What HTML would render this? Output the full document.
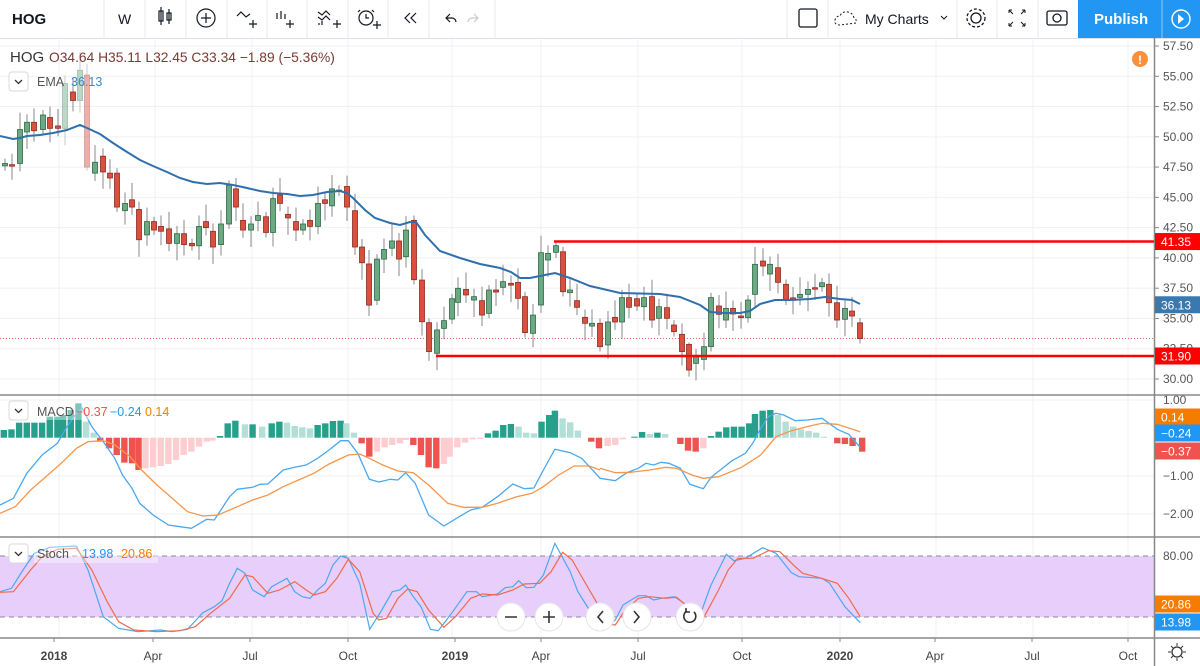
<!DOCTYPE html>
<html><head><meta charset="utf-8"><style>
html,body{margin:0;padding:0;background:#fff;width:1200px;height:666px;overflow:hidden;font-family:"Liberation Sans",sans-serif}
svg{display:block}
</style></head><body>
<svg id="s" width="1200" height="666" xmlns="http://www.w3.org/2000/svg" font-family="Liberation Sans, sans-serif"></svg>
<script>
const S=document.getElementById('s');let h='';
const Y=p=>46+(57.5-p)*12.109;
// toolbar
h+='<rect x="0" y="0" width="1200" height="38" fill="#fff"/><line x1="0" y1="38.5" x2="1200" y2="38.5" stroke="#e0e3eb"/>';
[104,145,186,227,267,307,348,388,429,495,787,828,957,997,1038].forEach(x=>h+=`<line x1="${x}" y1="0" x2="${x}" y2="38" stroke="#e8eaef"/>`);
h+='<text x="12" y="24" font-size="15" font-weight="bold" fill="#131722">HOG</text>';
h+='<text x="118" y="24" font-size="14" fill="#131722">W</text>';
h+='<g stroke="#131722" fill="none" stroke-width="1.2"><rect x="159" y="11" width="4" height="10"/><line x1="161" y1="7" x2="161" y2="25"/><rect x="167" y="13" width="4" height="7"/><line x1="169" y1="9" x2="169" y2="24"/>'+
'<circle cx="206" cy="18" r="9"/><path d="M201 18h10M206 13v10"/>'+
'<path d="M237 16l4-4 5 5 4-3M249 24h8M253 20v8"/><path d="M277 13v6M281 11v8M285 14v5M286 24h8M290 20v8"/>'+
'<path d="M318 12l4 3 4-4 4 4M318 17l4 3 4-4 4 4M319 25v-2M322 25v-4M333 24h8M337 20v8"/>'+
'<circle cx="366" cy="18" r="7"/><path d="M366 14v4h3M360 10l-2 2M372 10l2 2M373 25h8M377 21v8"/>'+
'<path d="M410 13l-5 5 5 5M416 13l-5 5 5 5"/><path d="M450 14l-4 4 4 4M446 18h6a4 4 0 0 1 4 4"/></g>';
h+='<path d="M474 14l4 4-4 4M478 18h-6a4 4 0 0 0-4 4" stroke="#c8cbd3" fill="none" stroke-width="1.2"/>';
h+='<rect x="799" y="9" width="18" height="18" rx="2" fill="none" stroke="#131722" stroke-width="1.3"/>';
h+='<path d="M840 25 q-6 0 -5-5 q1-4 5-4 q2-5 8-4 q5 1 6 6 q3 1 2 5z" fill="none" stroke="#131722" stroke-dasharray="2 2"/>';
h+='<text x="865" y="24" font-size="14" fill="#131722">My Charts</text><path d="M941 16l3 3 3-3" stroke="#131722" fill="none"/>';
h+='<circle cx="976" cy="18" r="5" fill="none" stroke="#131722" stroke-width="1.3"/><circle cx="976" cy="18" r="9" fill="none" stroke="#131722" stroke-width="1.3" stroke-dasharray="3 2"/>';
h+='<path d="M1009 10l4 4M1009 10h3M1009 10v3M1025 10l-4 4M1025 10h-3M1025 10v3M1009 26l4-4M1009 26h3M1009 26v-3M1025 26l-4-4M1025 26h-3M1025 26v-3" stroke="#131722" fill="none"/>';
h+='<rect x="1047" y="11" width="20" height="14" rx="2" fill="none" stroke="#131722" stroke-width="1.3"/><circle cx="1057" cy="18" r="4" fill="none" stroke="#131722" stroke-width="1.3"/>';
h+='<rect x="1078" y="0" width="122" height="38" fill="#2196f3"/><line x1="1162" y1="0" x2="1162" y2="38" stroke="#fff" stroke-opacity=".5"/>';
h+='<text x="1094" y="24" font-size="15" font-weight="bold" fill="#fff">Publish</text>';
h+='<circle cx="1181" cy="19" r="9" fill="none" stroke="#fff" stroke-width="1.4"/><path d="M1178 14l6 5-6 5z" fill="#fff"/>';
// grids
const VX=[59,155,252,348,452,541,638,742,840,936,1033,1128];
VX.forEach(x=>h+=`<line x1="${x}" y1="39" x2="${x}" y2="638" stroke="#f0f1f4"/>`);
for(let p=30;p<=57.5;p+=2.5){const y=Y(p);h+=`<line x1="0" y1="${y}" x2="1154" y2="${y}" stroke="#f0f1f4"/><line x1="1154" y1="${y}" x2="1159" y2="${y}" stroke="#888"/><text x="1163" y="${y+4}" font-size="12" fill="#555">${p.toFixed(2)}</text>`;}
// stoch fill
h+='<rect x="0" y="556" width="1154" height="61" fill="#e8cffb"/>';
h+='<line x1="0" y1="556" x2="1154" y2="556" stroke="#8a8a99" stroke-dasharray="5 4"/><line x1="0" y1="617" x2="1154" y2="617" stroke="#8a8a99" stroke-dasharray="5 4"/>';
[[400,"1.00"],[476,"−1.00"],[514,"−2.00"]].forEach(a=>h+=`<line x1="0" y1="${a[0]}" x2="1154" y2="${a[0]}" stroke="#f0f1f4"/><text x="1163" y="${a[0]+4}" font-size="12" fill="#555">${a[1]}</text>`);
h+='<text x="1163" y="560" font-size="12" fill="#555">80.00</text>';
// panel borders
h+='<line x1="0" y1="395" x2="1200" y2="395" stroke="#888" stroke-width="1.5"/><line x1="0" y1="537" x2="1200" y2="537" stroke="#888" stroke-width="1.5"/><line x1="0" y1="638" x2="1200" y2="638" stroke="#888" stroke-width="1.5"/>';
h+='<line x1="1154.5" y1="38" x2="1154.5" y2="666" stroke="#888" stroke-width="1.5"/>';
// current price line
h+=`<line x1="0" y1="${Y(33.34)}" x2="1154" y2="${Y(33.34)}" stroke="#e06a5a" stroke-dasharray="1 2"/>`;
// candles
const C=[[5,47.6,47.8],[12,47.7,47.6],[20,47.8,50.6],[27,50.4,51.2],[34,51.2,50.5],[43,50.6,51.8],[50,51.6,50.7],[58,50.9,50.7],[65,50.7,54.4],[73,53.7,53.0],[80,53.0,55.5],[87,55.1,47.5],[95,47.0,47.9],[103,48.4,47.1],[110,47.0,46.6],[117,47.0,44.2],[125,43.9,44.5],[132,44.8,44.2],[139,44.0,41.5],[147,41.9,43.0],[154,43.0,42.3],[161,42.6,42.2],[169,42.4,41.2],[177,41.2,42.0],[184,42.0,41.1],[192,41.2,41.0],[199,41.0,42.6],[206,43.0,42.5],[213,42.2,40.9],[221,41.1,42.8],[229,42.8,46.0],[236,45.7,44.2],[243,43.1,42.3],[251,42.3,42.8],[258,43.1,43.5],[266,43.4,42.1],[273,42.1,44.9],[280,45.2,44.5],[288,43.6,43.3],[296,43.0,42.3],[303,42.3,42.8],[310,43.1,42.6],[318,42.6,44.5],[325,44.8,44.5],[332,44.3,45.7],[339,45.5,45.6],[347,45.9,44.2],[355,43.9,40.9],[362,40.9,39.6],[369,39.5,36.1],[377,36.5,39.9],[384,39.9,40.7],[392,40.8,41.4],[399,41.4,39.9],[406,40.1,42.3],[414,43.1,38.2],[422,38.17,34.73],[429,34.65,32.26],[437,32.12,34.05],[444,34.18,34.82],[452,34.95,36.63],[458,36.33,37.49],[466,37.40,36.94],[474,36.52,36.80],[482,36.47,35.28],[489,35.42,37.35],[496,37.35,37.18],[503,37.57,38.04],[511,37.90,37.75],[518,37.98,36.66],[525,36.80,33.83],[533,33.77,35.28],[541,36.11,40.43],[548,39.83,40.37],[556,40.46,41.01],[563,40.51,37.21],[570,37.13,37.35],[577,36.47,35.92],[585,35.09,34.60],[592,34.37,34.60],[600,34.60,32.67],[608,32.81,34.71],[615,35.09,34.71],[622,34.71,36.72],[629,36.72,35.92],[637,36.63,36.03],[644,35.97,36.72],[652,36.80,34.87],[659,35.01,35.97],[667,35.89,35.01],[674,34.46,33.91],[682,33.69,32.26],[689,32.86,30.74],[696,31.29,31.84],[704,31.62,32.67],[711,32.67,36.72],[719,36.03,35.34],[726,34.87,35.83],[733,35.83,35.37],[741,35.20,35.06],[748,35.06,36.52],[755,36.99,39.47],[763,39.74,39.33],[770,38.67,39.47],[778,39.19,37.98],[786,37.82,36.52],[793,36.7,36.5],[800,36.74,36.99],[808,36.99,37.40],[815,37.54,37.43],[822,37.62,37.95],[829,37.82,36.30],[837,36.30,34.87],[845,34.93,35.83],[852,35.61,35.20],[860,34.64,33.34]];
const ext={429:[35,31.5],556:[41.35,40],689:[33,30.2],755:[40.9,36],763:[40.8,38.5],414:[43.5,37.8],87:[56,47.2],80:[57,52]};
C.forEach((c,i)=>{const[x,o,cl]=c;let hi=Math.max(o,cl)+0.4+((i*7)%5)*0.25,lo=Math.min(o,cl)-0.4-((i*3)%5)*0.25;if(ext[x]){hi=ext[x][0];lo=ext[x][1];}
const up=cl>=o;const fill=up?'#6aa982':'#d9503f',st=up?'#2e6a45':'#8e2c22';const op=(x>=60&&x<=90&&Y(Math.max(o,cl))<92)?0.45:1;
const t=Y(Math.max(o,cl)),b=Y(Math.min(o,cl));
h+=`<g opacity="${op}"><line x1="${x}" y1="${Y(hi)}" x2="${x}" y2="${Y(lo)}" stroke="#888"/><rect x="${x-2.5}" y="${t}" width="5" height="${Math.max(1.5,b-t)}" fill="${fill}" stroke="${st}" stroke-width=".8"/></g>`;});
const E2=[[0,136],[13,139],[20,138],[27,136],[40,135],[53,133],[67,130],[80,125],[87,128],[100,134],[113,143],[127,152],[140,160],[153,166],[167,172],[180,178],[193,182],[207,184],[220,183],[233,185],[247,188],[260,191],[273,193],[287,194],[300,196],[313,195],[327,192],[340,191],[347,193],[353,198],[365,210],[375,218],[390,223],[400,225],[410,222],[416,222],[425,235],[440,251],[460,258],[480,264],[500,268],[511,272],[520,278],[530,278],[540,276],[555,273],[570,278],[590,286],[620,293],[660,294],[680,297],[700,305],[710,312],[725,313],[740,313],[750,311],[760,304],[775,300],[790,300],[810,299],[825,297],[840,299],[852,300],[860,304]];
h+=`<polyline points="${E2.map(p=>p.join(',')).join(' ')}" fill="none" stroke="#2f6fad" stroke-width="2"/>`;
// S/R lines
h+=`<line x1="554" y1="${Y(41.35)}" x2="1154" y2="${Y(41.35)}" stroke="#f00" stroke-width="2.5"/><line x1="436" y1="${Y(31.9)}" x2="1154" y2="${Y(31.9)}" stroke="#f00" stroke-width="2.5"/>`;
const lab=(y,t,c)=>h+=`<rect x="1155" y="${y-8.5}" width="45" height="17" fill="${c}"/><text x="1161" y="${y+4.5}" font-size="12" fill="#fff">${t}</text>`;
lab(Y(41.35),'41.35','#f00');lab(Y(36.13),'36.13','#3a78b0');lab(Y(31.9),'31.90','#f00');
// MACD histogram
const z4x=zx=>zx/2.613,z5x=zx=>600+zx/2.613,zy=v=>390+v/3;const Z0=437.7;
const H=[[10,120],[30,118],[50,98],[70,98],[90,98],[110,98],[130,80],[150,80],[165,75],[185,60],[205,40],[225,95],[245,128],[262,155],[285,175],[305,195],[325,218],[345,220],[362,240],[380,235],[400,232],[420,228],[440,222],[460,210],[480,195],[500,185],[520,170],[540,155],[555,152],[575,138],[595,100],[615,92],[640,103],[660,103],[685,110],[710,100],[730,95],[750,98],[770,108],[790,112],[810,115],[830,105],[850,100],[870,93],[890,92],[905,100],[925,128],[945,160],[965,200],[985,185],[1005,172],[1025,165],[1045,160],[1060,150],[1080,165],[1100,195],[1120,232],[1140,235],[1160,222],[1175,200],[1195,172],[1215,158],[1235,148],[1255,147],[1275,130],[1295,122],[1315,105],[1335,102],[1355,110],[1375,128],[1395,130],[1415,95],[1435,75],[1450,62],[1470,85],[1490,97],[1510,122],[1545,155],[1565,175]].map(a=>[z4x(a[0]),zy(a[1])]);
const H5=[[20,168],[40,165],[60,148],[90,140],[110,126],[130,132],[150,128],[170,132],[210,162],[230,182],[250,185],[270,175],[290,138],[310,125],[330,112],[350,110],[370,110],[390,100],[405,72],[425,62],[445,60],[465,75],[485,95],[505,110],[525,118],[545,123],[565,128],[585,140],[620,160],[640,162],[660,168],[685,185]].map(a=>[z5x(a[0]),zy(a[1])]);
const HA=H.concat(H5);let prev=0;
HA.forEach(b=>{const v=Z0-b[1];const pos=v>=0;const grow=Math.abs(v)>=Math.abs(prev)||(Math.sign(v)!==Math.sign(prev));prev=v;
const col=pos?(grow?'#26a08a':'#b2dfd6'):(grow?'#ef5350':'#fecdd2');h+=`<rect x="${b[0]-3.2}" y="${Math.min(b[1],Z0)}" width="6.4" height="${Math.max(1,Math.abs(v))}" fill="${col}"/>`;});
const pl=(a,f,col,w)=>h+=`<polyline points="${a.map(p=>f(p[0]).toFixed(1)+','+zy(p[1]).toFixed(1)).join(' ')}" fill="none" stroke="${col}" stroke-width="${w||1.3}"/>`;
pl([[0,345],[35,325],[70,250],[110,195],[150,160],[175,110],[200,70],[215,55],[240,110],[270,155],[300,205],[320,255],[345,295],[365,340],[400,375],[440,405],[470,410],[500,415],[540,388],[560,390],[600,320],[620,298],[660,292],[680,283],[700,282],[740,240],[770,232],[800,225],[830,205],[860,180],[890,152],[910,152],[935,190],[965,268],[990,276],[1020,268],[1040,270],[1060,248],[1085,280],[1120,375],[1160,408],[1200,380],[1230,360],[1260,352],[1300,320],[1340,282],[1370,296],[1395,294],[1420,240],[1450,178],[1490,188],[1520,205],[1568,265]],z4x,'#4aa8f0');
pl([[0,265],[40,272],[70,248],[100,235],[120,220],[140,225],[160,217],[180,220],[210,235],[235,283],[270,296],[290,262],[320,235],[345,212],[380,190],[400,158],[420,115],[440,80],[460,70],[480,75],[510,92],[540,90],[580,85],[620,118],[650,133],[680,172]],z5x,'#4aa8f0');
pl([[0,370],[40,350],[80,300],[120,260],[160,220],[200,175],[230,155],[270,152],[300,165],[340,200],[370,240],[410,285],[450,325],[490,365],[530,378],[570,375],[620,350],[660,330],[700,315],[740,290],[780,270],[820,250],[860,222],[910,195],[940,192],[965,205],[1000,225],[1040,243],[1080,248],[1120,285],[1170,340],[1210,352],[1260,352],[1300,340],[1350,320],[1390,310],[1420,290],[1460,255],[1500,228],[1540,228],[1568,240]],z4x,'#f7964a');
pl([[0,235],[40,248],[80,247],[130,240],[170,232],[200,235],[240,255],[270,265],[310,260],[370,232],[420,195],[460,140],[500,122],[540,110],[580,100],[620,103],[680,125]],z5x,'#f7964a');
// stoch
pl([[0,605],[30,595],[60,540],[90,490],[130,472],[200,468],[230,540],[270,680],[310,715],[360,725],[420,720],[450,725],[490,718],[530,668],[560,650],[580,632],[600,580],[620,535],[640,550],[660,600],[690,620],[710,590],[750,565],[770,605],[790,620],[810,625],[830,600],[850,580],[870,525],[890,498],[910,505],[940,580],[966,718],[995,665],[1025,605],[1045,600],[1060,585],[1080,620],[1100,650],[1125,718],[1145,722],[1180,670],[1220,605],[1245,605],[1260,620],[1300,612],[1320,593],[1340,590],[1355,572],[1375,593],[1395,592],[1420,555],[1450,460],[1490,545],[1510,605],[1540,660],[1568,710]],z4x,'#4aa8f0',1.2);
pl([[0,715],[40,690],[60,645],[100,617],[120,617],[140,630],[160,625],[195,620],[220,640],[260,680],[290,585],[330,493],[350,512],[380,505],[425,473],[460,490],[500,548],[520,560],[580,565],[600,580],[640,650],[680,698]],z5x,'#4aa8f0',1.2);
pl([[0,607],[35,605],[80,540],[110,500],[150,478],[200,475],[240,540],[280,635],[310,695],[350,720],[410,725],[470,722],[510,710],[550,670],[600,625],[640,555],[660,560],[700,610],[730,600],[770,575],[800,600],[820,615],[850,605],[880,565],[910,508],[940,545],[975,670],[990,690],[1010,685],[1040,625],[1065,597],[1090,605],[1120,660],[1160,712],[1190,680],[1230,625],[1260,612],[1300,615],[1340,600],[1370,582],[1410,580],[1440,545],[1470,487],[1495,510],[1530,580],[1568,655]],z4x,'#ef6a4a',1.2);
pl([[0,700],[40,705],[60,670],[100,625],[130,620],[170,625],[200,622],[230,650],[270,685],[310,600],[335,540],[360,505],[400,505],[440,482],[470,485],[510,530],[530,550],[570,562],[620,580],[650,625],[680,680]],z5x,'#ef6a4a',1.2);
lab(417,'0.14','#f57c00');lab(433,'−0.24','#2196f3');lab(451,'−0.37','#ef5350');
lab(604,'20.86','#f57c00');lab(622,'13.98','#2196f3');
// zoom buttons
[511,549,600,637,690].forEach(x=>h+=`<circle cx="${x}" cy="617" r="14" fill="#fff" stroke="#e6e6ea"/>`);
h+='<g stroke="#333" stroke-width="1.6" fill="none"><path d="M505 617h12M543 617h12M549 611v12M603 611l-5 6 5 6M634 611l5 6-5 6"/><path d="M694 612a6 6 0 1 1-7-1"/><path d="M686 608v4h4"/></g>';
// legends
h+='<text x="10" y="62" font-size="15" fill="#333">HOG</text><text x="49" y="62" font-size="13.8" fill="#7a3b32">O34.64  H35.11  L32.45  C33.34  −1.89 (−5.36%)</text>';
const chev=(x,y)=>h+=`<rect x="${x}" y="${y}" width="19" height="19" rx="3" fill="#fff" stroke="#d6d8de"/><path d="M${x+6} ${y+8}l3.5 3.5 3.5-3.5" stroke="#333" fill="none" stroke-width="1.3"/>`;
chev(9,72);h+='<text x="37" y="86" font-size="12.5" fill="#555">EMA</text><text x="71" y="86" font-size="12.5" fill="#3a88c8">36.13</text>';
chev(9,401);h+='<rect x="34" y="402" width="130" height="18" fill="#fff" opacity=".4"/><text x="37" y="416" font-size="12.5" fill="#555">MACD</text><text x="76" y="416" font-size="12.5" fill="#ef5350">−0.37</text><text x="110" y="416" font-size="12.5" fill="#2196f3">−0.24</text><text x="145" y="416" font-size="12.5" fill="#f57c00">0.14</text>';
chev(9,544);h+='<rect x="34" y="545" width="124" height="18" fill="#fff" opacity=".4"/><text x="37" y="558" font-size="12.5" fill="#555">Stoch</text><text x="82" y="558" font-size="12.5" fill="#2196f3">13.98</text><text x="121" y="558" font-size="12.5" fill="#f57c00">20.86</text>';
h+='<circle cx="1140" cy="59" r="8" fill="#f7913d"/><text x="1140" y="64" font-size="12" font-weight="bold" fill="#fff" text-anchor="middle">!</text>';
// time axis
[[54,'2018',1],[153,'Apr'],[250,'Jul'],[348,'Oct'],[455,'2019',1],[541,'Apr'],[638,'Jul'],[742,'Oct'],[840,'2020',1],[935,'Apr'],[1032,'Jul'],[1128,'Oct']].forEach(a=>h+=`<text x="${a[0]}" y="660" font-size="12" text-anchor="middle" fill="#444" ${a[2]?'font-weight="bold"':''}>${a[1]}</text><line x1="${a[0]}" y1="638" x2="${a[0]}" y2="642" stroke="#888"/>`);
h+='<circle cx="1177" cy="652" r="5" fill="none" stroke="#333" stroke-width="1.3"/><path d="M1177 643v3M1177 658v3M1168 652h3M1183 652h3M1171 646l2 2M1181 656l2 2M1171 658l2-2M1181 648l2-2" stroke="#333"/>';
S.innerHTML=h;
</script>
</body></html>
